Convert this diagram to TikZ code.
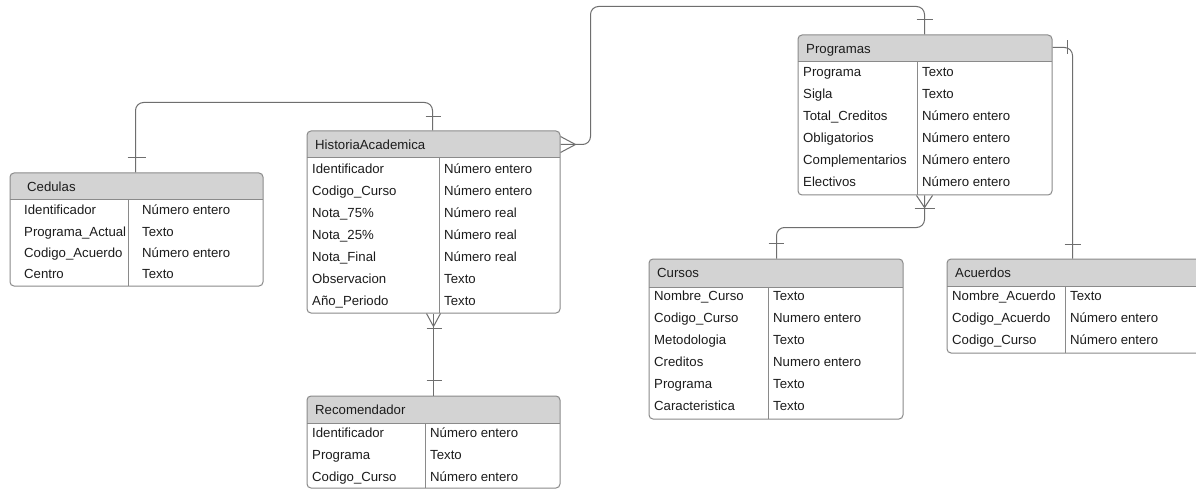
\documentclass[tikz,border=0pt]{standalone}
\usepackage{fontspec}
\setmainfont{Liberation Sans}
\usetikzlibrary{calc,fit}

\definecolor{headgray}{HTML}{D3D3D3}
\definecolor{framegray}{HTML}{8A8A8A}
\definecolor{linkgray}{HTML}{6E6E6E}
\definecolor{ink}{HTML}{1C1C1C}

\tikzset{
  frame/.style={draw=framegray, line width=1pt, rounded corners=4pt, inner sep=0pt},
  rule/.style={draw=framegray, line width=1pt},
  cell/.style={anchor=west, inner sep=0pt, text=ink, text height=9.4pt, text depth=0pt,
               font=\fontsize{13.2}{15}\selectfont},
  link/.style={draw=linkgray, line width=1pt, rounded corners=8pt},
  tickmark/.style={draw=linkgray, line width=1pt},
}

% table frame: name, left, top, right, bottom, header bottom, divider x, text offset, title
\newcommand\ertable[9]{%
  \begin{scope}
    \clip[rounded corners=4pt] (#2,#3) rectangle (#4,#5);
    \fill[headgray] (#2,#3) rectangle (#4,#6);
  \end{scope}
  \draw[rule] (#2,#6) -- (#4,#6) (#7,#6) -- (#7,#5);
  \node[frame, fit={(#2,#3) (#4,#5)}] (#1) {};
  \node[cell] (#1-title) at (#2+#8+3, {(#3+#6)/2}) {#9};
}
% table rows: name, left, divider x, text offset, first row y, row step, field/type list
\newcommand\errows[7]{%
  \foreach \fa/\fb [count=\i] in {#7} {
    \node[cell] (#1-a\i) at (#2+#4, #5+#6*\i-#6) {\fa};
    \node[cell] (#1-b\i) at (#3+#4, #5+#6*\i-#6) {\fb};
  }
}

\begin{document}
\begin{tikzpicture}[x=1pt, y=-1pt]
\useasboundingbox (0,0) rectangle (1196,489);
\fill[white] (0,0) rectangle (1196,489);

% ---- tables ----
\ertable{ced}{10}{173}{263}{286}{200}{128}{14}{Cedulas}
\errows{ced}{10}{128}{14}{210}{21.3}{Identificador/Número entero,
  Programa\_Actual/Texto, Codigo\_Acuerdo/Número entero, Centro/Texto}

\ertable{hist}{307}{131}{560}{313}{158}{439}{5}{HistoriaAcademica}
\errows{hist}{307}{439}{5}{168.5}{22.1}{Identificador/Número entero,
  Codigo\_Curso/Número entero, Nota\_75\%/Número real, Nota\_25\%/Número real,
  Nota\_Final/Número real, Observacion/Texto, Año\_Periodo/Texto}

\ertable{prog}{798}{35}{1052}{195}{62}{917}{5}{Programas}
\errows{prog}{798}{917}{5}{72}{22}{Programa/Texto, Sigla/Texto,
  Total\_Creditos/Número entero, Obligatorios/Número entero,
  Complementarios/Número entero, Electivos/Número entero}

\ertable{cur}{649}{259}{903}{419}{287}{768}{5}{Cursos}
\errows{cur}{649}{768}{5}{296}{22}{Nombre\_Curso/Texto, Codigo\_Curso/Numero entero,
  Metodologia/Texto, Creditos/Numero entero, Programa/Texto, Caracteristica/Texto}

\ertable{acu}{947}{259}{1215}{353}{286}{1065}{5}{Acuerdos}
\errows{acu}{947}{1065}{5}{296}{21.7}{Nombre\_Acuerdo/Texto,
  Codigo\_Acuerdo/Número entero, Codigo\_Curso/Número entero}

\ertable{rec}{307}{396}{560}{488}{423}{425}{5}{Recomendador}
\errows{rec}{307}{425}{5}{432.5}{22}{Identificador/Número entero,
  Programa/Texto, Codigo\_Curso/Número entero}

% ---- Cedulas -- HistoriaAcademica ----
\draw[link] ($(ced.north west)+(126,0)$) -- ++(0,-70) -| ($(hist.north west)+(126,0)$);
\draw[tickmark] ($(ced.north west)+(118,-15)$) -- ++(18,0);
\draw[tickmark] ($(hist.north west)+(119,-14)$) -- ++(15,0);

% ---- HistoriaAcademica -- Programas ----
\draw[link] ($(hist.north east)+(0,14)$) -- ++(30,0) -- ++(0,-138) -| ($(prog.north west)+(127,0)$);
\draw[tickmark] ($(hist.north east)+(0,6)$) -- ($(hist.north east)+(15,14)$) -- ($(hist.north east)+(0,22)$);
\draw[tickmark] ($(prog.north west)+(119,-15)$) -- ++(16,0);

% ---- Programas -- Acuerdos ----
\draw[link] ($(prog.north east)+(0,13)$) -| ($(acu.north west)+(126,0)$);
\draw[tickmark] ($(prog.north east)+(15,6)$) -- ++(0,14);
\draw[tickmark] ($(acu.north west)+(118,-14)$) -- ++(16,0);

% ---- Programas -- Cursos ----
\draw[link] ($(prog.south west)+(127,0)$) -- ++(0,32) -| ($(cur.north west)+(128,0)$);
\draw[tickmark] ($(prog.south west)+(119,0)$) -- ($(prog.south west)+(127,12)$) -- ($(prog.south west)+(135,0)$);
\draw[tickmark] ($(prog.south west)+(117,13)$) -- ++(20,0);
\draw[tickmark] ($(cur.north west)+(120,-15)$) -- ++(15,0);

% ---- HistoriaAcademica -- Recomendador ----
\draw[link] ($(hist.south west)+(127,0)$) -- ($(rec.north west)+(127,0)$);
\draw[tickmark] ($(hist.south west)+(120,0)$) -- ($(hist.south west)+(127,13)$) -- ($(hist.south west)+(134,0)$);
\draw[tickmark] ($(hist.south west)+(120,15)$) -- ++(15,0);
\draw[tickmark] ($(rec.north west)+(120,-15)$) -- ++(15,0);
\end{tikzpicture}
\end{document}
